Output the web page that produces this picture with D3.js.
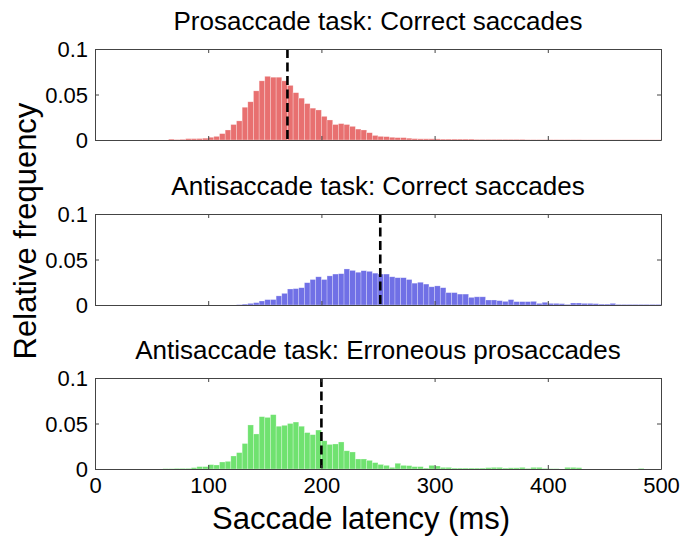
<!DOCTYPE html>
<html><head><meta charset="utf-8">
<script src="https://cdn.jsdelivr.net/npm/d3@7"></script>
<style>body{margin:0;background:#fff}svg{display:block}text{font-family:"Liberation Sans",Arial,sans-serif}</style>
</head><body><svg id="c" width="683" height="541"></svg>
<script>
// 5 ms latency bins, 0..495 ms (bin start)
const binStarts = d3.range(0, 500, 5);
const titles = ["Prosaccade task: Correct saccades","Antisaccade task: Correct saccades","Antisaccade task: Erroneous prosaccades"];
const colors = ["#e87070","#7070e6","#70e270"];
const medians = [170, 252, 200];
const xTicks = [0,100,200,300,400,500];
const yTicks = [0,0.05,0.1];
const yTickLabels = ["0","0.05","0.1"];
const proCorrect = [0,0,0,0,0,0,0,0,0,0, 0,0,0,0.001,0.0005,0.0008,0.0015,0.0015,0.0016,0.002,
 0.003,0.004,0.007,0.011,0.017,0.021,0.036,0.042,0.054,0.065, 0.070,0.069,0.069,0.065,0.060,0.052,0.046,0.040,0.035,0.033,
 0.026,0.022,0.017,0.018,0.017,0.015,0.012,0.011,0.008,0.005, 0.004,0.0037,0.003,0.0026,0.0026,0.002,0.0015,0.0013,0.0013,0.0013,
 0.0012,0.001,0.001,0.001,0.001,0.001,0.001,0.0007,0.0007,0.0007, 0.0007,0.0007,0.0007,0.0007,0.0007,0.0007,0.0004,0.0004,0.0004,0.0004,
 0.0004,0.0004,0.0004,0.0004,0.0004,0.0004,0.0002,0.0002,0.0002,0.0002, 0.0002,0.0002,0.0002,0.0002,0.0002,0.0002,0.0002,0.0002,0.0002,0.0002];
const antiCorrect = [0,0,0,0,0,0,0,0,0,0, 0,0,0,0,0,0,0,0,0,0,
 0,0,0,0,0,0.0004,0.001,0.0018,0.0026,0.0044, 0.0059,0.006,0.010,0.0128,0.0176,0.018,0.019,0.0245,0.028,0.031,
 0.028,0.032,0.034,0.0344,0.0396,0.038,0.036,0.0377,0.037,0.035, 0.034,0.034,0.031,0.030,0.030,0.028,0.024,0.025,0.023,0.020,
 0.021,0.019,0.0136,0.0136,0.012,0.012,0.0084,0.009,0.009,0.0055, 0.0055,0.0048,0.004,0.0059,0.0037,0.0037,0.0037,0.004,0.0018,0.003,
 0.0018,0.0018,0.0015,0.0007,0.0022,0.0022,0.0018,0.0018,0.0015,0.001, 0.001,0.0018,0.0007,0.0007,0.0007,0.0007,0.0007,0.0007,0.0007,0.0007];
const antiError = [0,0,0,0,0,0,0,0,0,0, 0,0,0.0004,0.0004,0.0007,0.0007,0.0007,0.0015,0.0026,0.0026,
 0.0048,0.0044,0.0077,0.0084,0.0143,0.018,0.028,0.0484,0.0385,0.0575, 0.0567,0.0597,0.047,0.048,0.050,0.0516,0.047,0.040,0.0377,0.0428,
 0.031,0.027,0.0275,0.0297,0.020,0.0187,0.011,0.011,0.0095,0.007, 0.005,0.004,0.0018,0.0063,0.004,0.0037,0.0026,0.0026,0.001,0.004,
 0.0033,0.0018,0.0018,0.001,0.001,0.001,0.001,0.001,0.001,0.0015, 0.0018,0.0018,0.001,0.0013,0.0013,0.0018,0.0007,0.0018,0.0018,0.0007,
 0.0004,0.0004,0,0.0018,0.0018,0.0015,0,0,0,0, 0,0,0,0,0,0,0.0007,0,0,0];
const series = [proCorrect, antiCorrect, antiError];

const svg = d3.select("#c");
const left = 95, right = 661, ph = 91;
const tops = [49, 214, 378];
const x = d3.scaleLinear().domain([0,500]).range([left,right]);
const axisColor = "#444";

series.forEach((vals, p) => {
  const top = tops[p], bot = top + ph;
  const y = d3.scaleLinear().domain([0,0.1]).range([bot, top]);
  const g = svg.append("g");
  g.selectAll("rect.bar").data(binStarts).join("rect")
    .attr("class","bar")
    .attr("x", d => x(d))
    .attr("width", x(5) - x(0))
    .attr("y", (d,i) => y(vals[i]))
    .attr("height", (d,i) => y(0) - y(vals[i]))
    .attr("fill", colors[p])
    .attr("stroke", "rgba(255,255,255,0.45)")
    .attr("stroke-width", 0.6);
  // median dashed line
  g.append("line")
    .attr("x1", x(medians[p])).attr("x2", x(medians[p]))
    .attr("y1", y(0.1)).attr("y2", y(0))
    .attr("stroke", "#000").attr("stroke-width", 2.6)
    .attr("stroke-dasharray", "9,4.5");
  // axes (inward ticks on all sides)
  const axB = g.append("g").attr("transform", `translate(0,${bot})`)
    .call(d3.axisBottom(x).tickValues(xTicks).tickSizeInner(-4).tickSizeOuter(0).tickFormat(d => p === 2 ? d : ""));
  const axT = g.append("g").attr("transform", `translate(0,${top})`)
    .call(d3.axisTop(x).tickValues(xTicks).tickSizeInner(-4).tickSizeOuter(0).tickFormat(""));
  const axL = g.append("g").attr("transform", `translate(${left},0)`)
    .call(d3.axisLeft(y).tickValues(yTicks).tickSizeInner(-4).tickSizeOuter(0).tickFormat((d,i) => yTickLabels[i]));
  const axR = g.append("g").attr("transform", `translate(${right},0)`)
    .call(d3.axisRight(y).tickValues(yTicks).tickSizeInner(-4).tickSizeOuter(0).tickFormat(""));
  [axB, axT, axL, axR].forEach(a => {
    a.select(".domain").attr("stroke", axisColor);
    a.selectAll(".tick line").attr("stroke", axisColor);
    a.selectAll("text").attr("fill", "#000").style("font-size", "22px")
      .style("font-family", '"Liberation Sans",Arial,sans-serif');
  });
  axL.selectAll("text").attr("x", -7).attr("dy", "0.36em");
  axB.selectAll("text").attr("y", 7).attr("dy", "0.75em");
  g.append("text").attr("x", 378).attr("y", top - 19)
    .attr("text-anchor", "middle").style("font-size", "26px").text(titles[p]);
});

svg.append("text").attr("x", 361).attr("y", 529)
  .attr("text-anchor", "middle").style("font-size", "31px").text("Saccade latency (ms)");
svg.append("text").attr("transform", "translate(36,231) rotate(-90)")
  .attr("text-anchor", "middle").style("font-size", "31px").text("Relative frequency");
</script></body></html>
